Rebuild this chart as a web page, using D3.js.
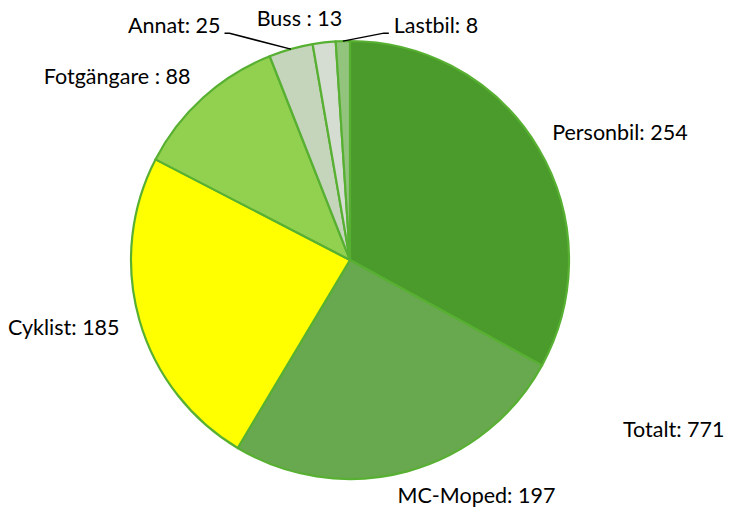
<!DOCTYPE html><head><meta charset="utf-8">
<title>pie</title>
<style type="text/css">
body { margin: 0; background: white; }
svg text { font-family: Lato, "Liberation Sans", sans-serif; font-size: 21.5px; fill: #000; }
</style>
<script type="text/javascript" src="https://cdn.jsdelivr.net/npm/d3@7"></script>
</head><body>
<div id="chart"></div>
<script type="text/javascript">

var categories = ["Personbil", "MC-Moped", "Cyklist", "Fotgängare", "Annat", "Buss", "Lastbil"];
var values = [254, 197, 185, 88, 25, 13, 8];
var separators = [": ", ": ", ": ", " : ", ": ", " : ", ": "];
var colors = ["#4a9b2b", "#68a84f", "#ffff00", "#92d050", "#c5d5bc", "#d5ddd2", "#92c47d"];
var totalLabel = "Totalt: 771";

var width = 730, height = 509;
var cx = 350, cy = 260, radius = 219;

// nudges for label placement, Excel-ish best fit
var nudge = {
  "Personbil": {dx: -13, dy: 0, anchor: "start"},
  "MC-Moped": {dx: -18, dy: -6, anchor: "start"},
  "Cyklist": {dx: 10, dy: -1, anchor: "end"},
  "Fotgängare": {dx: 8, dy: 2, anchor: "end"},
  "Annat": {dx: -62, dy: 6, anchor: "end", leader: true},
  "Buss": {dx: -21, dy: 7, anchor: "middle"},
  "Lastbil": {dx: 52, dy: 15, anchor: "start", leader: true}
};

var svg = d3.select("#chart").append("svg")
  .attr("width", width).attr("height", height);

var g = svg.append("g").attr("transform", "translate(" + cx + "," + cy + ")");

var data = categories.map(function(c, i) { return {name: c, value: values[i], sep: separators[i], color: colors[i]}; });

var pie = d3.pie().sort(null).value(function(d) { return d.value; });
var arc = d3.arc().innerRadius(0).outerRadius(radius);
var labelArc = d3.arc().innerRadius(250).outerRadius(250);
var edgeArc = d3.arc().innerRadius(radius).outerRadius(radius);

var arcs = pie(data);

g.selectAll("path.slice")
  .data(arcs)
  .join("path").attr("class", "slice")
  .attr("d", arc)
  .attr("fill", function(d) { return d.data.color; })
  .attr("stroke", "#58b032")
  .attr("stroke-width", 2.2)
  .attr("stroke-linejoin", "round");

var labels = arcs.map(function(d) {
  var c = labelArc.centroid(d);
  var n = nudge[d.data.name];
  return {d: d, x: c[0] + n.dx, y: c[1] + n.dy, n: n};
});

// leader lines for the thin slices
labels.filter(function(l) { return l.n.leader; }).forEach(function(l) {
  var e = edgeArc.centroid(l.d);
  var ly = l.y + 8;
  var lx = l.n.anchor == "end" ? l.x + 4 : l.x - 5;
  var bend = l.n.anchor == "end" ? lx + 5 : lx - 5;
  g.append("path")
    .attr("d", d3.line()([[lx, ly], [bend, ly], e]))
    .attr("fill", "none")
    .attr("stroke", "#000")
    .attr("stroke-width", 1.5);
});

g.selectAll("text.label")
  .data(labels)
  .join("text").attr("class", "label")
  .attr("x", function(l) { return l.x; })
  .attr("y", function(l) { return l.y; })
  .attr("dy", "0.35em")
  .attr("text-anchor", function(l) { return l.n.anchor; })
  .text(function(l) { return l.d.data.name + l.d.data.sep + l.d.data.value; });

svg.append("text")
  .attr("x", 623).attr("y", 429).attr("dy", "0.35em")
  .text(totalLabel);

</script>
</body></html>
